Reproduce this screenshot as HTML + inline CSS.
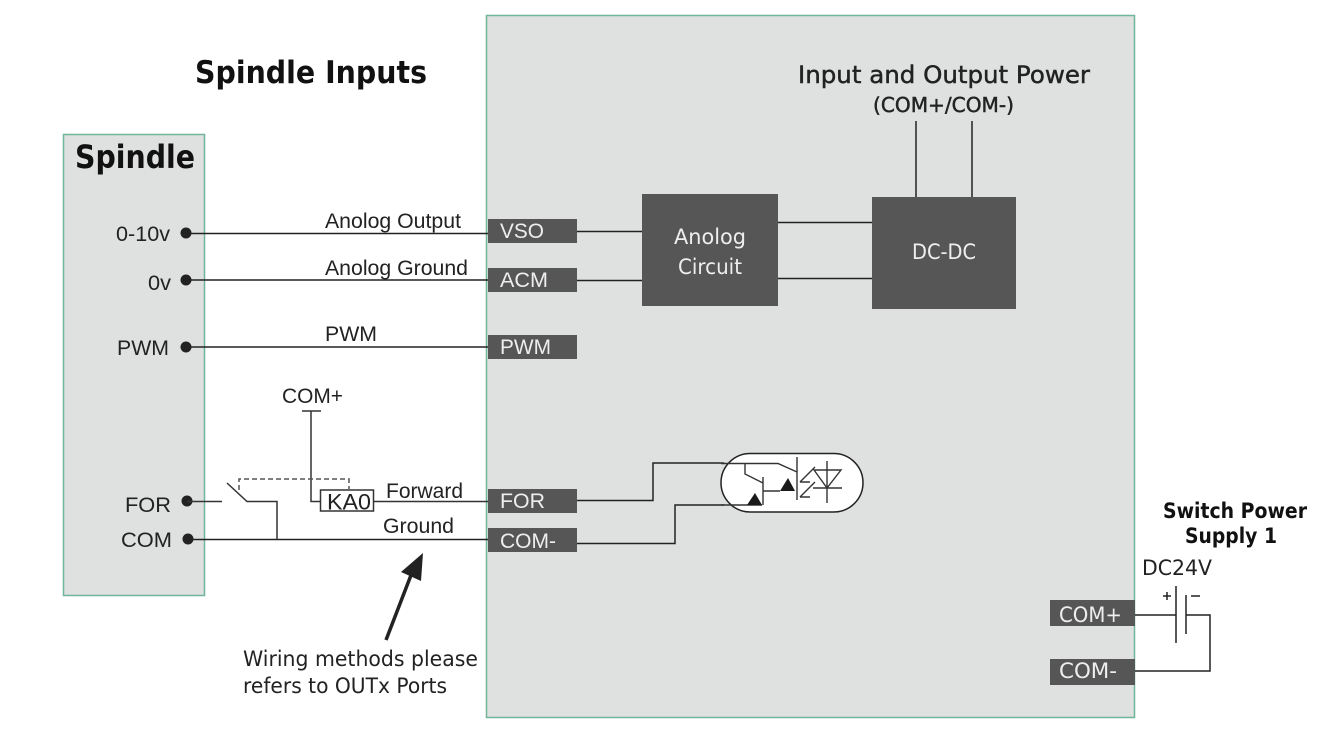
<!DOCTYPE html>
<html><head><meta charset="utf-8"><style>
html,body{margin:0;padding:0;background:#fff}
svg{display:block}
text{font-family:"Liberation Sans",sans-serif;fill:#222}
.d{font-family:"DejaVu Sans",sans-serif}
.w{fill:#eee}
.h{stroke:#222;stroke-width:.45}
.l{stroke:#333;stroke-width:1.5;fill:none}
.k{stroke:#222;stroke-width:1.5;fill:none}
</style></head><body>
<svg width="1339" height="754" viewBox="0 0 1339 754" xmlns="http://www.w3.org/2000/svg">
<rect width="1339" height="754" fill="#fff"/>
<rect x="486.5" y="15.5" width="648" height="702" fill="#dfe0e0" stroke="#6fb597" stroke-width="1.5"/>
<rect x="63.5" y="134.5" width="141" height="461" fill="#dfe0e0" stroke="#6fb597" stroke-width="1.5"/>

<text x="195" y="83" class="d" font-size="31" font-weight="bold" style="fill:#111" textLength="232" lengthAdjust="spacingAndGlyphs">Spindle Inputs</text>
<text x="75" y="168" class="d" font-size="32" font-weight="bold" style="fill:#111" textLength="120" lengthAdjust="spacingAndGlyphs">Spindle</text>
<text x="798" y="83" class="d h" font-size="24" style="fill:#222" textLength="292" lengthAdjust="spacingAndGlyphs">Input and Output Power</text>
<text x="873" y="112" class="d h" font-size="20" style="fill:#222" textLength="141" lengthAdjust="spacingAndGlyphs">(COM+/COM-)</text>

<!-- Left labels -->
<g font-size="21.5">
<text x="116" y="241" textLength="54" lengthAdjust="spacingAndGlyphs">0-10v</text>
<text x="148" y="290" textLength="23" lengthAdjust="spacingAndGlyphs">0v</text>
<text x="117" y="355" textLength="52" lengthAdjust="spacingAndGlyphs">PWM</text>
<text x="125" y="512" textLength="46" lengthAdjust="spacingAndGlyphs">FOR</text>
<text x="121" y="547" textLength="51" lengthAdjust="spacingAndGlyphs">COM</text>
<text x="325" y="228" textLength="136" lengthAdjust="spacingAndGlyphs">Anolog Output</text>
<text x="325" y="275" textLength="143" lengthAdjust="spacingAndGlyphs">Anolog Ground</text>
<text x="325" y="341" textLength="52" lengthAdjust="spacingAndGlyphs">PWM</text>
<text x="282" y="403" textLength="61" lengthAdjust="spacingAndGlyphs">COM+</text>
<text x="386" y="498" textLength="77" lengthAdjust="spacingAndGlyphs">Forward</text>
<text x="383" y="533" textLength="71" lengthAdjust="spacingAndGlyphs">Ground</text>
</g>

<!-- Dots -->
<g fill="#222">
<circle cx="186" cy="233" r="5.500"/><circle cx="186" cy="280" r="5.500"/><circle cx="186" cy="347" r="5.500"/>
<circle cx="187" cy="501" r="5.500"/><circle cx="188" cy="539" r="5.500"/>
</g>

<!-- Signal lines -->
<path class="k" d="M186 233.5H488M186 280H488M186 347H488M188 539.5H488"/>
<path class="l" d="M187 501.5H222M227 483L247 501.5H277V539M302 411H321M311 411V501.5H320M374 501.5H488"/>
<path d="M239 490V479H349V489" fill="none" stroke="#555" stroke-width="1.5" stroke-dasharray="5 3"/>
<rect x="320.500" y="490" width="53" height="21" fill="#fff" stroke="#333" stroke-width="1.5"/>
<text x="327" y="509.500" font-size="22" textLength="44" lengthAdjust="spacingAndGlyphs">KA0</text>

<!-- Port boxes -->
<g fill="#565656">
<rect x="488" y="219" width="89" height="24"/><rect x="488" y="268" width="89" height="24"/>
<rect x="488" y="335" width="89" height="24"/><rect x="488" y="489" width="89" height="24"/>
<rect x="488" y="528" width="89" height="24"/><rect x="1050" y="600" width="85" height="26"/>
<rect x="1050" y="659" width="85" height="26"/>
<rect x="642" y="194" width="136" height="112"/><rect x="872" y="197" width="144" height="112"/>
</g>
<g font-size="21.5">
<text class="w" x="500" y="238" textLength="44" lengthAdjust="spacingAndGlyphs">VSO</text>
<text class="w" x="500" y="287" textLength="48" lengthAdjust="spacingAndGlyphs">ACM</text>
<text class="w" x="500" y="354" textLength="51" lengthAdjust="spacingAndGlyphs">PWM</text>
<text class="w" x="500" y="508" textLength="45" lengthAdjust="spacingAndGlyphs">FOR</text>
<text class="w" x="500" y="548" textLength="56" lengthAdjust="spacingAndGlyphs">COM-</text>
</g>
<g class="d" font-size="21">
<text class="d w" x="1059" y="622" font-size="21" textLength="63" lengthAdjust="spacingAndGlyphs">COM+</text>
<text class="d w" x="1059" y="678" font-size="21" textLength="58" lengthAdjust="spacingAndGlyphs">COM-</text>
<text class="d w" x="674" y="244" font-size="21" textLength="72" lengthAdjust="spacingAndGlyphs">Anolog</text>
<text class="d w" x="678" y="274" font-size="21" textLength="64" lengthAdjust="spacingAndGlyphs">Circuit</text>
<text class="d w" x="912" y="259" font-size="21" textLength="64" lengthAdjust="spacingAndGlyphs">DC-DC</text>
</g>

<!-- Block wires -->
<path class="k" d="M577 231.500H642M577 280.500H642M778 222.500H872M778 278.500H872M916 121V197M972 121V197"/>

<!-- Optocoupler wires -->
<path class="k" d="M577 500.500H653V463H724M577 543.500H675V505H724"/>
<rect x="721" y="453.500" width="142" height="58.500" rx="29.250" fill="#fff" stroke="#222" stroke-width="1.500"/>
<path d="M721 463.500H778L797 472M721 505H762M745 463V474L763 483M763 477V505M763 491H780M797 457V500M814 470H841L827 488ZM813 488H842M827 461V503M800 482L815 467M800 482H810M800 497L815 482M800 497H810" fill="none" stroke="#333" stroke-width="1.400"/>
<path d="M780 491L788 478L795 491ZM747 505L755 493L762 505Z" fill="#1a1a1a"/>

<!-- Arrow and note -->
<path d="M386 640L413 570" stroke="#222" stroke-width="3.500" fill="none"/>
<path d="M423 553L401 572L421 581Z" fill="#222"/>
<text class="d" x="243" y="666" font-size="21" textLength="235" lengthAdjust="spacingAndGlyphs">Wiring methods please</text>
<text class="d" x="243" y="693" font-size="21" textLength="204" lengthAdjust="spacingAndGlyphs">refers to OUTx Ports</text>

<!-- Power -->
<text class="d" x="1163" y="518" font-size="21" font-weight="bold" style="fill:#111" textLength="144" lengthAdjust="spacingAndGlyphs">Switch Power</text>
<text class="d" x="1185" y="543" font-size="21" font-weight="bold" style="fill:#111" textLength="92" lengthAdjust="spacingAndGlyphs">Supply 1</text>
<text class="d" x="1142" y="575" font-size="21" style="fill:#222" textLength="70" lengthAdjust="spacingAndGlyphs">DC24V</text>
<path class="k" d="M1135 615H1176M1176 586V643M1186 595V634M1186 615H1210V671H1135"/>
<path d="M1163 596H1171M1167 592V600M1191 596H1200" stroke="#222" stroke-width="1.500" fill="none"/>
</svg>
</body></html>
